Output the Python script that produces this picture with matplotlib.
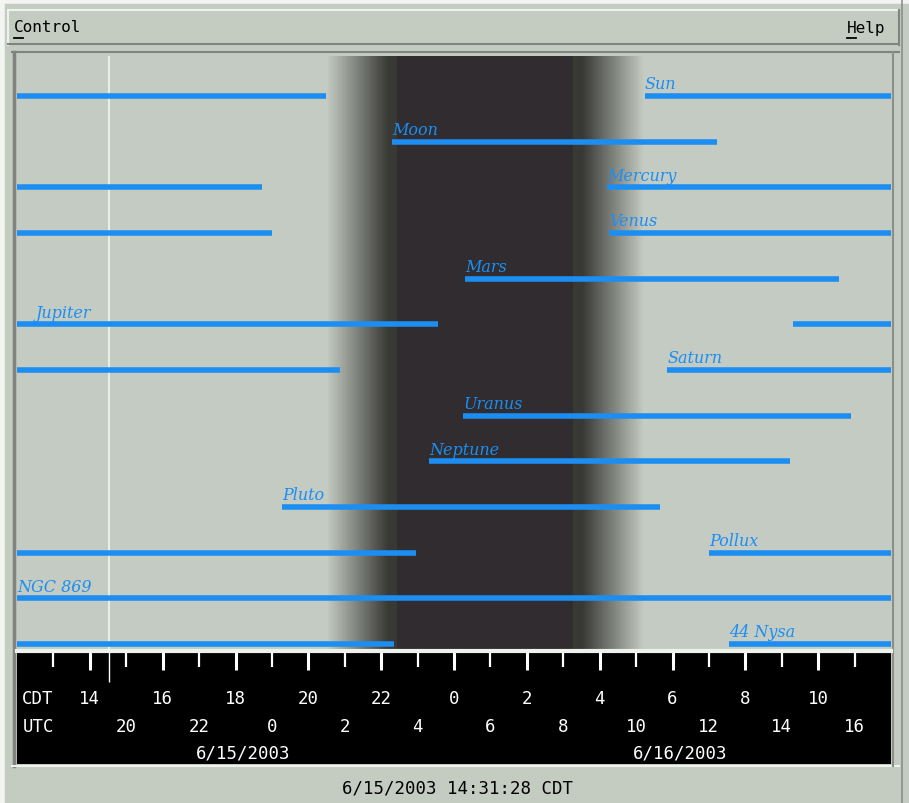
import numpy as np
import matplotlib
matplotlib.use("Agg")
import matplotlib.pyplot as plt
from matplotlib.lines import Line2D
from matplotlib.patches import Rectangle

# ── data (hours CDT, counted from 0:00 on 6/15/2003) ─────────────────────
objects = ["Sun", "Moon", "Mercury", "Venus", "Mars", "Jupiter", "Saturn",
           "Uranus", "Neptune", "Pluto", "Pollux", "NGC 869", "44 Nysa"]
rise_h = [29.24, 22.30, 28.20, 28.26, 24.30, 33.31, 29.85,
          24.25, 23.31, 19.28, 31.00, np.nan, 31.55]
set_h = [20.49, 31.22, 18.73, 19.00, 34.57, 23.56, 20.87,
         34.90, 33.23, 29.66, 22.96, np.nan, 22.35]
label_h = [29.24, 22.30, 28.20, 28.26, 24.30, 12.52, 29.85,
           24.25, 23.31, 19.28, 31.00, 12.0, 31.55]

t_start, t_end = 12.0, 36.0
now_h = 14 + 31 / 60 + 28 / 3600
# twilight: sunset, end of dusk, full dark, end of full dark, dawn, sunrise
sunset, dusk_end, dark_start = 20.50, 22.19, 22.43
dark_end, dawn_start, sunrise = 27.24, 27.51, 29.19

cdt_hours = [14, 16, 18, 20, 22, 24, 26, 28, 30, 32, 34]
cdt_labels = ["14", "16", "18", "20", "22", "0", "2", "4", "6", "8", "10"]
utc_hours = [15, 17, 19, 21, 23, 25, 27, 29, 31, 33, 35]
utc_labels = ["20", "22", "0", "2", "4", "6", "8", "10", "12", "14", "16"]
date_hours = [18.2, 30.2]
date_labels = ["6/15/2003", "6/16/2003"]
status = "6/15/2003 14:31:28 CDT"

BG = "#c4cbc1"
LIGHT = np.array([196, 203, 194]) / 255
TWI = np.array([56, 56, 53]) / 255
DARK = np.array([48, 44, 47]) / 255
BLUE = "#1c8ef2"

W, H = 909, 804
fig = plt.figure(figsize=(W / 100, H / 100), dpi=100, facecolor=BG)


def box(x0, y0, x1, y1):
    return [x0 / W, 1 - y1 / H, (x1 - x0) / W, (y1 - y0) / H]


def fline(xs, ys, color, lw=1.0):
    fig.add_artist(Line2D([x / W for x in xs], [1 - y / H for y in ys],
                          color=color, lw=lw, transform=fig.transFigure))


# ── window chrome ─────────────────────────────────────────────────────────
fig.add_artist(Rectangle((0, 0), 1, 1, transform=fig.transFigure,
                         facecolor=BG, edgecolor="none", zorder=-10))
fline([0, 909], [2, 2], "#f2f5f0", 4)
fline([2, 2], [0, 804], "#f2f5f0", 4)
# menu bar
fline([8, 899], [11, 11], "#eef2ec", 1.5)
fline([8, 8], [11, 46], "#eef2ec", 1.5)
fline([8, 899], [45, 45], "#7f847d", 1.5)
fline([899, 899], [11, 46], "#7f847d", 1.5)
fig.text(14 / W, 1 - 28 / H, "Control", family="DejaVu Sans Mono", fontsize=11.5,
         va="center", ha="left", color="black")
fig.text(885 / W, 1 - 28 / H, "Help", family="DejaVu Sans Mono", fontsize=11.5,
         va="center", ha="right", color="black")
fline([14, 23], [39, 39], "black", 1.3)
fline([847, 856], [39, 39], "black", 1.3)
# sunken frame around the plot
fline([12, 899], [53, 53], "#7f847d", 1.5)
fline([14, 14], [53, 767], "#7f847d", 2.5)
fline([12, 899], [767, 767], "#eef2ec", 1.5)
fline([893, 893], [53, 767], "#8a8f88", 1.5)
fline([902, 902], [0, 804], "#8a8f88", 1.2)

# ── plot area ─────────────────────────────────────────────────────────────
ax = fig.add_axes(box(17, 57, 891, 650))
row_px = 45.67
ax.set_xlim(t_start, t_end)
ax.set_ylim((650 - 97) / row_px, (57 - 97) / row_px)
ax.axis("off")

tt = np.linspace(t_start, t_end, 1600)
frac = np.zeros_like(tt)
frac = np.where((tt > sunset) & (tt < dusk_end), (tt - sunset) / (dusk_end - sunset), frac)
frac = np.where((tt >= dusk_end) & (tt <= dawn_start), 1.0, frac)
frac = np.where((tt > dawn_start) & (tt < sunrise), (sunrise - tt) / (sunrise - dawn_start), frac)
cols = LIGHT[None, :] * (1 - frac[:, None]) + TWI[None, :] * frac[:, None]
cols[(tt >= dark_start) & (tt <= dark_end)] = DARK
ylo, yhi = ax.get_ylim()
ax.imshow(cols[None, :, :], extent=(t_start, t_end, ylo, yhi), aspect="auto",
          interpolation="nearest", zorder=0)
ax.set_xlim(t_start, t_end)
ax.set_ylim(ylo, yhi)

ax.axvline(now_h, color="#eef2ec", lw=1.3, zorder=1)

for i, name in enumerate(objects):
    r, s = rise_h[i], set_h[i]
    if np.isnan(r):
        segs = [(t_start, t_end)]
    elif r < s:
        segs = [(r, s)]
    else:
        segs = [(t_start, s), (r, t_end)]
    for a, b in segs:
        ax.hlines(i, a, b, color=BLUE, lw=4, capstyle="butt", zorder=3)
    ax.text(label_h[i], i - 0.17, name, color=BLUE, family="DejaVu Serif",
            style="italic", fontsize=11.5, ha="left", va="baseline", zorder=4)

# ── time axis band ────────────────────────────────────────────────────────
fline([17, 891], [651.5, 651.5], "#eef2ec", 3)
axb = fig.add_axes(box(17, 653, 891, 765))
axb.set_facecolor("black")
axb.set_xlim(t_start, t_end)
axb.set_ylim(112, 0)
axb.set_xticks([])
axb.set_yticks([])
for sp in axb.spines.values():
    sp.set_visible(False)

for h in range(13, 36):
    if h % 2 == 0:
        axb.vlines(h, 0, 18, color="white", lw=2.2)
    else:
        axb.vlines(h, 0, 15, color="white", lw=1.6)
axb.vlines(now_h, 0, 30, color="white", lw=1.0)

mono = dict(family="DejaVu Sans Mono", fontsize=12.5, color="white",
            va="center")
axb.text(12.14, 46, "CDT", ha="left", **mono)
axb.text(12.17, 74, "UTC", ha="left", **mono)
for h, lab in zip(cdt_hours, cdt_labels):
    axb.text(h, 46, lab, ha="center", **mono)
for h, lab in zip(utc_hours, utc_labels):
    axb.text(h, 74, lab, ha="center", **mono)
for h, lab in zip(date_hours, date_labels):
    axb.text(h, 101, lab, ha="center", **mono)

fig.text(458 / W, 1 - 789 / H, status, family="DejaVu Sans Mono",
         fontsize=12.5, color="black", ha="center", va="center")

fig.savefig("out.png", dpi=100, facecolor=BG)
